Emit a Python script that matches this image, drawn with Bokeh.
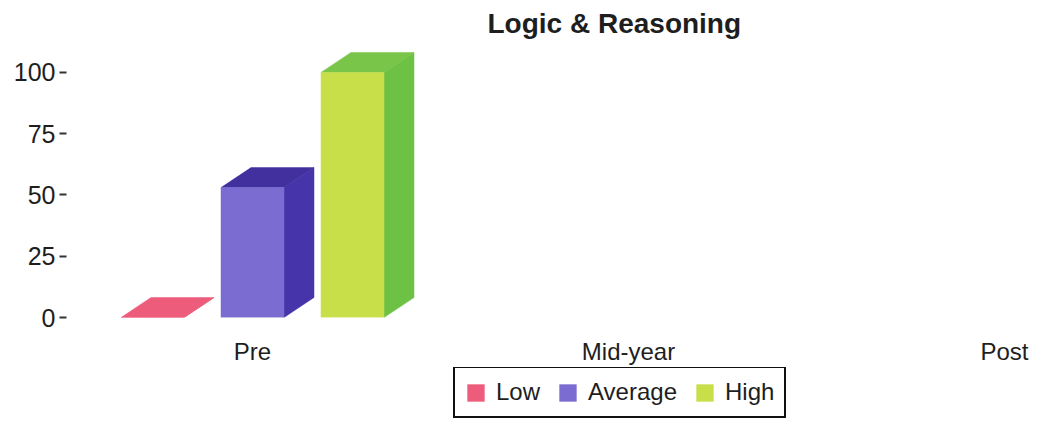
from bokeh.plotting import figure
from bokeh.layouts import column
from bokeh.models import Range1d, FixedTicker, Legend, LegendItem, ColumnDataSource
from bokeh.embed import file_html
from bokeh.resources import INLINE

# ---- data ----
categories = ["Pre", "Mid-year", "Post"]
series = ["Low", "Average", "High"]
low_values = [0, None, None]
average_values = [53, None, None]
high_values = [100, None, None]
y_ticks = [0, 25, 50, 75, 100]

front_colors = ["#ee5c7c", "#7b6cd2", "#c9df4a"]
side_colors = ["#e4526f", "#4635aa", "#6dc145"]
top_colors = ["#ee5c7c", "#41309e", "#78c549"]

# ---- layout ----
W = 1029
H_MAIN, H_LEG = 367, 53
LEFT = 66
BOTTOM = 50
PX_PER_X = 376.0
X0_PX = 252.0 - LEFT          # pixel of category 0 inside frame
X_START = -X0_PX / PX_PER_X
X_END = X_START + (W - LEFT) / PX_PER_X
Y_END = 111.8

common = dict(output_backend="svg", toolbar_location=None,
              min_border_left=LEFT, min_border_right=0, min_border_top=0)

p = figure(width=W, height=H_MAIN, x_range=Range1d(X_START, X_END), y_range=Range1d(0, Y_END),
           min_border_bottom=BOTTOM, **common)
p.outline_line_color = None
p.grid.visible = False

# legend strip: same borders as p, its frame only holds the legend
q = figure(width=W, height=H_LEG, x_range=p.x_range, y_range=Range1d(1000, 1001),
           x_axis_location=None, y_axis_location=None, min_border_bottom=0, **common)
q.outline_line_color = None
q.grid.visible = False

frame_w = W - LEFT
frame_h_est = 274.0
dx = 30.0 * (X_END - X_START) / frame_w
dy = 20.0 * Y_END / frame_h_est
bar_w = 63.0 / PX_PER_X
offsets = [-100.0 / PX_PER_X, 0.0, 100.0 / PX_PER_X]

all_values = [low_values, average_values, high_values]
items = []
for s, name in enumerate(series):
    xs, tops, side_xs, side_ys, top_xs, top_ys = [], [], [], [], [], []
    for c, v in enumerate(all_values[s]):
        if v is None:
            continue
        xc = c + offsets[s]
        l, r = xc - bar_w / 2, xc + bar_w / 2
        xs.append(xc)
        tops.append(v)
        side_xs.append([r, r + dx, r + dx, r])
        side_ys.append([0, dy, v + dy, v])
        top_xs.append([l, l + dx, r + dx, r])
        top_ys.append([v, v + dy, v + dy, v])
    p.patches(side_xs, side_ys, fill_color=side_colors[s], line_color=side_colors[s], line_width=0.5)
    p.patches(top_xs, top_ys, fill_color=top_colors[s], line_color=top_colors[s], line_width=0.5)
    src = ColumnDataSource(dict(x=xs, top=tops))
    p.vbar(x="x", top="top", bottom=0, width=bar_w, source=src,
           fill_color=front_colors[s], line_color=front_colors[s], line_width=0.5)
    # same bars in the legend strip (outside its visible y range) to provide legend swatches
    rq = q.vbar(x="x", top="top", bottom=0, width=bar_w, source=src,
                fill_color=front_colors[s], line_color=front_colors[s], line_width=0.5)
    items.append(LegendItem(label=name, renderers=[rq]))

FONT = "Liberation Sans"
TXT = "#1e1e1e"

xa = p.xaxis[0]
xa.ticker = FixedTicker(ticks=list(range(len(categories))))
xa.major_label_overrides = {i: c for i, c in enumerate(categories)}
xa.axis_line_color = None
xa.major_tick_line_color = None
xa.minor_tick_line_color = None
xa.major_label_standoff = 14
xa.major_label_text_font = FONT
xa.major_label_text_font_size = "24px"
xa.major_label_text_color = TXT

ya = p.yaxis[0]
ya.ticker = FixedTicker(ticks=y_ticks)
ya.axis_line_color = None
ya.minor_tick_line_color = None
ya.major_tick_in = 0
ya.major_tick_out = 7
ya.major_tick_line_width = 2
ya.major_tick_line_color = "#333333"
ya.major_label_standoff = 4
ya.major_label_text_font = FONT
ya.major_label_text_font_size = "25px"
ya.major_label_text_color = TXT

p.title.text = "Logic & Reasoning"
p.title.text_font = FONT
p.title.text_font_size = "28px"
p.title.text_font_style = "bold"
p.title.text_color = TXT
p.title.align = "left"
p.title.offset = 487 - LEFT

legend = Legend(items=items, orientation="horizontal", location=(453 - LEFT, 2))
legend.label_text_font = FONT
legend.label_text_font_size = "24px"
legend.label_text_color = TXT
legend.glyph_width = 21
legend.glyph_height = 21
legend.label_standoff = 10
legend.spacing = 17
legend.padding = 10
legend.margin = 0
legend.border_line_color = "#111111"
legend.border_line_alpha = 1.0
legend.border_line_width = 2
legend.background_fill_color = "white"
legend.background_fill_alpha = 1.0
q.add_layout(legend, "center")

layout = column(p, q, spacing=0)
open("out.html", "w").write(file_html(layout, INLINE))
